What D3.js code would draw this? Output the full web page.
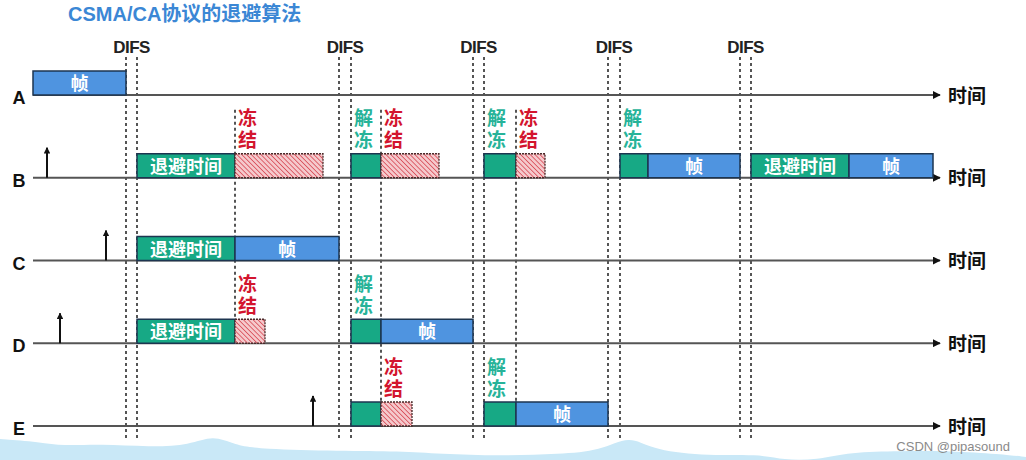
<!DOCTYPE html>
<html><head><meta charset="utf-8">
<script src="https://cdn.jsdelivr.net/npm/d3@7"></script>
<style>
body{margin:0;background:#fff}
svg{display:block}
text{font-family:"Liberation Sans","Noto Sans CJK SC",sans-serif}
</style>
</head><body>
<svg id="c" width="1026" height="460"></svg>
<script>
// ---- data ----
const titleText = "CSMA/CA协议的退避算法";
const stations = ["A", "B", "C", "D", "E"];
const axisLabel = "时间";
const difsLabel = "DIFS";
// DIFS intervals (time units)
const difsStart = [9.3, 30.6, 44.0, 57.5, 70.7];
const difsEnd   = [10.4, 31.8, 45.1, 58.7, 71.8];
// moments when a frame becomes ready at a station
const arrivalStation = ["B", "C", "D", "E"];
const arrivalTime    = [1.4, 7.3, 2.7, 28.0];
// segments: station, kind, start, end, inner text, note above
const segStation = ["A","B","B","B","B","B","B","B","B","B","B","C","C","D","D","D","D","E","E","E","E"];
const segKind    = ["frame","backoff","frozen","backoff","frozen","backoff","frozen","backoff","frame","backoff","frame","backoff","frame","backoff","frozen","backoff","frame","backoff","frozen","backoff","frame"];
const segStart   = [0, 10.4, 20.2, 31.8, 34.8, 45.1, 48.3, 58.7, 61.5, 71.8, 81.6, 10.4, 20.2, 10.4, 20.2, 31.8, 34.8, 31.8, 34.8, 45.1, 48.3];
const segEnd     = [9.3, 20.2, 29.0, 34.8, 40.6, 48.3, 51.2, 61.5, 70.7, 81.6, 90.0, 20.2, 30.6, 20.2, 23.2, 34.8, 44.0, 34.8, 37.9, 48.3, 57.5];
const segText    = ["帧","退避时间","","","","","","","帧","退避时间","帧","退避时间","帧","退避时间","","","帧","","","","帧"];
const segNote    = ["","","冻结","解冻","冻结","解冻","冻结","解冻","","","","","","","冻结","解冻","","","冻结","解冻",""];
// freeze instants with the lowest station their marker reaches
const freezeTime = [20.2, 34.8, 48.3];
const freezeTo   = ["D", "E", "E"];
// decorative wave at the bottom (x, y)
const waveX = [0, 40, 63, 100, 150, 190, 213, 235, 260, 340, 400, 440, 500, 560, 600, 630, 650, 700, 760, 783, 817, 850, 900, 950, 1000, 1026];
const waveY = [439, 442, 446, 444, 447, 445, 435, 445, 449, 451, 451, 454, 456, 454, 451, 435, 449, 456, 454, 460, 460, 452, 451, 451, 454, 457];
const watermark = "CSDN @pipasound";

// ---- drawing ----
const svg = d3.select("#c");
const x = d3.scaleLinear().domain([0, 90.7]).range([33, 940]);
const y = d3.scalePoint().domain(stations).range([95, 426]);
const boxH = 24;

const colors = {frame: "#4f94e0", backoff: "#17a985", frozen: "url(#hatch)"};

const defs = svg.append("defs");
const pat = defs.append("pattern").attr("id", "hatch").attr("width", 3.4).attr("height", 3.4)
  .attr("patternUnits", "userSpaceOnUse").attr("patternTransform", "rotate(-45)");
pat.append("rect").attr("width", 3.4).attr("height", 3.4).attr("fill", "#f5c9cc");
pat.append("line").attr("x1", 0).attr("y1", 0).attr("x2", 0).attr("y2", 3.4)
  .attr("stroke", "#d84a55").attr("stroke-width", 1.6);
defs.append("marker").attr("id", "ah").attr("viewBox", "0 0 10 10").attr("refX", 9).attr("refY", 5)
  .attr("markerWidth", 4).attr("markerHeight", 4).attr("orient", "auto")
  .append("path").attr("d", "M0,0L10,5L0,10Z").attr("fill", "#111");
defs.append("marker").attr("id", "ahs").attr("viewBox", "0 0 10 10").attr("refX", 9).attr("refY", 5)
  .attr("markerWidth", 3.2).attr("markerHeight", 3.2).attr("orient", "auto")
  .append("path").attr("d", "M0,0L10,5L0,10Z").attr("fill", "#111");

// bottom wave
svg.append("path")
  .datum(waveX.map((d, i) => [d, waveY[i]]))
  .attr("fill", "#c9e8f7")
  .attr("d", d3.area().x(d => d[0]).y0(460).y1(d => d[1]).curve(d3.curveBasis));

// title
svg.append("text").attr("x", 68).attr("y", 21).attr("fill", "#3b87d5")
  .attr("font-size", 20).attr("font-weight", "bold").text(titleText);

// DIFS dashed lines
const difsPairs = difsStart.map((d, i) => [d, difsEnd[i]]);
const dl = svg.append("g");
difsPairs.forEach(p => {
  p.forEach(t => {
    dl.append("line").attr("x1", x(t)).attr("x2", x(t)).attr("y1", 57).attr("y2", 440)
      .attr("stroke", "#555").attr("stroke-width", 2).attr("stroke-dasharray", "3,3");
  });
  dl.append("text").attr("x", (x(p[0]) + x(p[1])) / 2).attr("y", 53)
    .attr("text-anchor", "middle").attr("font-size", 17).attr("font-weight", "bold")
    .attr("fill", "#222").attr("letter-spacing", -0.5).text(difsLabel);
});

// freeze marker lines
freezeTime.forEach((t, i) => {
  dl.append("line").attr("x1", x(t)).attr("x2", x(t))
    .attr("y1", y("B") - 68).attr("y2", y(freezeTo[i]) - boxH)
    .attr("stroke", "#555").attr("stroke-width", 2).attr("stroke-dasharray", "3,3");
});

// station axes
const ax = svg.append("g");
stations.forEach(s => {
  ax.append("line").attr("x1", x(0)).attr("x2", x(90.7)).attr("y1", y(s)).attr("y2", y(s))
    .attr("stroke", "#555").attr("stroke-width", 2).attr("marker-end", "url(#ah)");
  ax.append("text").attr("x", 19).attr("y", y(s) + 3).attr("text-anchor", "middle")
    .attr("dominant-baseline", "central").attr("font-size", 18).attr("font-weight", "bold")
    .attr("fill", "#111").text(s);
  ax.append("text").attr("x", 948).attr("y", y(s) + 1).attr("dominant-baseline", "central")
    .attr("font-size", 19).attr("font-weight", "bold").attr("fill", "#111").text(axisLabel);
});

// arrivals
arrivalStation.forEach((s, i) => {
  ax.append("line").attr("x1", x(arrivalTime[i])).attr("x2", x(arrivalTime[i]))
    .attr("y1", y(s)).attr("y2", y(s) - 30)
    .attr("stroke", "#111").attr("stroke-width", 2).attr("marker-end", "url(#ahs)");
});

// segments
const segs = segStation.map((s, i) => ({s, kind: segKind[i], t0: segStart[i], t1: segEnd[i], text: segText[i], note: segNote[i]}));
const sg = svg.append("g");
segs.forEach(d => {
  const x0 = x(d.t0), x1 = x(d.t1), yb = y(d.s);
  sg.append("rect").attr("x", x0).attr("y", yb - boxH).attr("width", x1 - x0).attr("height", boxH)
    .attr("fill", colors[d.kind])
    .attr("stroke", d.kind === "frozen" ? "#4a2a2a" : "#1d3550")
    .attr("stroke-width", d.kind === "frozen" ? 1.3 : 1.5)
    .attr("stroke-dasharray", d.kind === "frozen" ? "2,1" : null);
  if (d.text) {
    sg.append("text").attr("x", (x0 + x1) / 2).attr("y", yb - boxH / 2 + 1)
      .attr("text-anchor", "middle").attr("dominant-baseline", "central")
      .attr("font-size", 18).attr("font-weight", "bold").attr("fill", "#fff").text(d.text);
  }
  if (d.note) {
    const col = d.note === "冻结" ? "#d3152e" : "#27b399";
    const chars = Array.from(d.note);
    chars.forEach((c, k) => {
      sg.append("text").attr("x", x0 + 3).attr("y", yb - 59 + k * 22)
        .attr("dominant-baseline", "central").attr("font-size", 19).attr("font-weight", "bold")
        .attr("fill", col).text(c);
    });
  }
});

// watermark
svg.append("text").attr("x", 1010).attr("y", 451).attr("text-anchor", "end")
  .attr("font-size", 13).attr("fill", "#8a8a8a").text(watermark);
</script>
</body></html>
